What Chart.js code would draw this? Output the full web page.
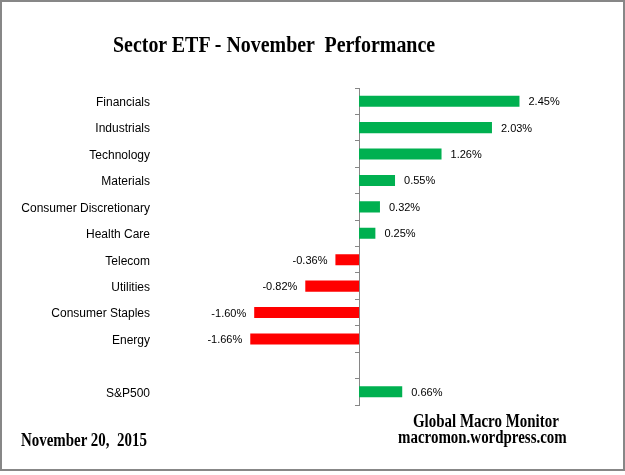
<!DOCTYPE html>
<html>
<head>
<meta charset="utf-8">
<script src="https://cdn.jsdelivr.net/npm/chart.js@4"></script>
<style>
  html, body { margin: 0; padding: 0; background: #fff; }
  #wrap { position: relative; width: 625px; height: 475px; overflow: hidden; }
  #frame { position: absolute; left: 0; top: 0; width: 625px; height: 471px; box-sizing: border-box; border: 2px solid #878787; pointer-events: none; }
  canvas { position: absolute; left: 0; top: 0; }
  .t { position: absolute; font-family: "Liberation Serif", "Times New Roman", serif; font-weight: bold; color: #000; white-space: pre; transform-origin: 0 0; transform: scaleX(0.83); }
</style>
</head>
<body>
<div id="wrap">
  <canvas id="c" width="625" height="475"></canvas>
  <div class="t" id="title" style="left:113px; top:32px; font-size:24px; line-height:24px;">Sector ETF - November  Performance</div>
  <div class="t" id="date" style="left:21px; top:431px; font-size:18px; line-height:18px;">November 20,  2015</div>
  <div class="t" id="f1" style="left:413px; top:412px; font-size:18px; line-height:18px;">Global Macro Monitor</div>
  <div class="t" id="f2" style="left:398px; top:428px; font-size:18px; line-height:18px;">macromon.wordpress.com</div>
  <div id="frame"></div>
</div>
<script>
const categories = ['Financials', 'Industrials', 'Technology', 'Materials', 'Consumer Discretionary', 'Health Care', 'Telecom', 'Utilities', 'Consumer Staples', 'Energy', '', 'S&P500'];
const performance = [2.45, 2.03, 1.26, 0.55, 0.32, 0.25, -0.36, -0.82, -1.60, -1.66, null, 0.66];

const GREEN = '#00B050';
const RED = '#FF0000';
const AXIS = '#868686';

const valueLabels = {
  id: 'valueLabels',
  afterDatasetsDraw(chart) {
    const ctx = chart.ctx;
    const meta = chart.getDatasetMeta(0);
    ctx.save();
    ctx.font = '11px "Liberation Sans", Arial, sans-serif';
    ctx.fillStyle = '#000';
    ctx.textBaseline = 'middle';
    meta.data.forEach((el, i) => {
      const v = performance[i];
      if (v === null || v === undefined) return;
      const txt = v.toFixed(2) + '%';
      if (v >= 0) {
        ctx.textAlign = 'left';
        ctx.fillText(txt, el.x + 9, el.y + 1);
      } else {
        ctx.textAlign = 'right';
        ctx.fillText(txt, el.x - 8, el.y + 1);
      }
    });
    ctx.restore();
  }
};

new Chart(document.getElementById('c'), {
  type: 'bar',
  data: {
    labels: categories,
    datasets: [{
      data: performance,
      backgroundColor: performance.map(v => (v !== null && v < 0) ? RED : GREEN),
      borderWidth: 0,
      barPercentage: 0.42,
      categoryPercentage: 1.0
    }]
  },
  options: {
    indexAxis: 'y',
    responsive: false,
    animation: false,
    devicePixelRatio: 1,
    layout: { padding: { top: 88, bottom: 70, left: 20, right: 36.75 } },
    plugins: { legend: { display: false }, title: { display: false }, tooltip: { enabled: false } },
    scales: {
      x: {
        type: 'linear',
        min: -3,
        max: 3.5,
        display: false
      },
      y: {
        type: 'category',
        position: 'left',
        offset: true,
        grid: { display: false, drawTicks: false, offset: true },
        border: { display: false },
        ticks: {
          padding: 12.5,
          labelOffset: 1.5,
          color: '#000',
          font: { family: '"Liberation Sans", Arial, sans-serif', size: 12 },
          autoSkip: false
        },
        afterFit(scale) { scale.width = 142.5; }
      },
      y2: {
        type: 'category',
        axis: 'y',
        position: { x: 0 },
        offset: true,
        grid: { display: true, drawOnChartArea: false, drawTicks: true, tickLength: 4, offset: true, color: AXIS, lineWidth: 1 },
        border: { display: true, color: AXIS, width: 1 },
        ticks: { display: false, autoSkip: false }
      }
    }
  },
  plugins: [valueLabels]
});
</script>
</body>
</html>
